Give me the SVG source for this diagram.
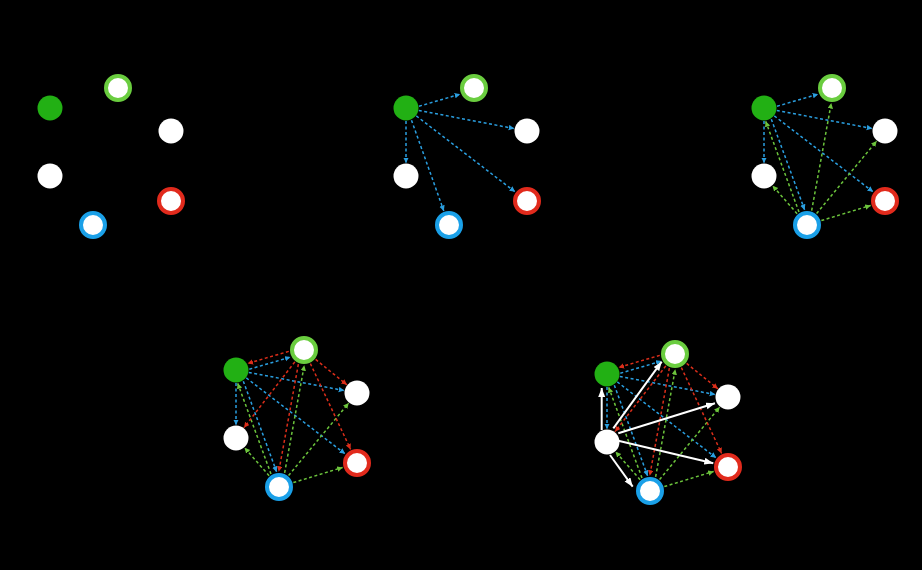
<svg xmlns="http://www.w3.org/2000/svg" width="922" height="570" viewBox="0 0 922 570">
<style>
.fill{fill:#22b014}
.white{fill:#ffffff}
.ringG{fill:#ffffff;stroke:#6acd3f;stroke-width:4}
.ringR{fill:#ffffff;stroke:#e12a1c;stroke-width:4}
.ringB{fill:#ffffff;stroke:#1aa0e8;stroke-width:4}
.eb{stroke:#2a9fe0;stroke-width:1.5;stroke-dasharray:3 2.5;fill:none;marker-end:url(#ab)}
.eg{stroke:#6cc43c;stroke-width:1.5;stroke-dasharray:3 2.5;fill:none;marker-end:url(#ag)}
.er{stroke:#dc2e1a;stroke-width:1.5;stroke-dasharray:3 2.5;fill:none;marker-end:url(#ar)}
.ew{stroke:#ffffff;stroke-width:2;fill:none;marker-end:url(#aw)}
</style>
<defs>
<marker id="ab" markerUnits="userSpaceOnUse" markerWidth="7" markerHeight="7" refX="5.5" refY="2.75" orient="auto"><path d="M0,0 L5.5,2.75 L0,5.5 z" fill="#2a9fe0"/></marker>
<marker id="ag" markerUnits="userSpaceOnUse" markerWidth="7" markerHeight="7" refX="5.5" refY="2.75" orient="auto"><path d="M0,0 L5.5,2.75 L0,5.5 z" fill="#6cc43c"/></marker>
<marker id="ar" markerUnits="userSpaceOnUse" markerWidth="7" markerHeight="7" refX="5.5" refY="2.75" orient="auto"><path d="M0,0 L5.5,2.75 L0,5.5 z" fill="#dc2e1a"/></marker>
<marker id="aw" markerUnits="userSpaceOnUse" markerWidth="10" markerHeight="8" refX="9" refY="3.5" orient="auto"><path d="M0,0 L9,3.5 L0,7 z" fill="#ffffff"/></marker>
</defs>
<rect x="0" y="0" width="922" height="570" fill="#000000"/>

<!-- Panel 1 -->
<g id="panel1">
<g id="p1-g"><circle class="fill" cx="50" cy="108" r="12.5"/></g>
<g id="p1-r1"><circle class="ringG" cx="118" cy="88" r="12"/></g>
<g id="p1-w1"><circle class="white" cx="171" cy="131" r="12.5"/></g>
<g id="p1-w2"><circle class="white" cx="50" cy="176" r="12.5"/></g>
<g id="p1-rd"><circle class="ringR" cx="171" cy="201" r="12"/></g>
<g id="p1-b"><circle class="ringB" cx="93" cy="225" r="12"/></g>
</g>

<!-- Panel 2 -->
<g id="panel2" transform="translate(356,0)">
<g id="p2-connectors">
<line class="eb" x1="63.03" y1="106.25" x2="104.17" y2="94.15"/>
<line class="eb" x1="62.77" y1="110.43" x2="158.23" y2="128.57"/>
<line class="eb" x1="50" y1="121" x2="50" y2="163"/>
<line class="eb" x1="60.31" y1="115.92" x2="159.11" y2="191.86"/>
<line class="eb" x1="55.49" y1="120.2" x2="87.82" y2="210.92"/>
</g>
<g id="p2-g"><circle class="fill" cx="50" cy="108" r="12.5"/></g>
<g id="p2-r1"><circle class="ringG" cx="118" cy="88" r="12"/></g>
<g id="p2-w1"><circle class="white" cx="171" cy="131" r="12.5"/></g>
<g id="p2-w2"><circle class="white" cx="50" cy="176" r="12.5"/></g>
<g id="p2-rd"><circle class="ringR" cx="171" cy="201" r="12"/></g>
<g id="p2-b"><circle class="ringB" cx="93" cy="225" r="12"/></g>
</g>

<!-- Panel 3 -->
<g id="panel3" transform="translate(714,0)">
<g id="p3-connectors">
<line class="eb" x1="63.03" y1="106.25" x2="104.17" y2="94.15"/>
<line class="eb" x1="62.77" y1="110.43" x2="158.23" y2="128.57"/>
<line class="eb" x1="50" y1="121" x2="50" y2="163"/>
<line class="eb" x1="60.31" y1="115.92" x2="159.11" y2="191.86"/>
<line class="eb" x1="57.31" y1="119.16" x2="90.64" y2="209.88"/>
<line class="eg" x1="85.0" y1="211.96" x2="51.67" y2="121.24"/>
<line class="eg" x1="97.66" y1="210.60" x2="117.28" y2="103.12"/>
<line class="eg" x1="102.58" y1="213.46" x2="162.70" y2="141.00"/>
<line class="eg" x1="83.11" y1="213.73" x2="58.57" y2="185.77"/>
<line class="eg" x1="107.34" y1="220.59" x2="156.66" y2="205.41"/>
</g>
<g id="p3-g"><circle class="fill" cx="50" cy="108" r="12.5"/></g>
<g id="p3-r1"><circle class="ringG" cx="118" cy="88" r="12"/></g>
<g id="p3-w1"><circle class="white" cx="171" cy="131" r="12.5"/></g>
<g id="p3-w2"><circle class="white" cx="50" cy="176" r="12.5"/></g>
<g id="p3-rd"><circle class="ringR" cx="171" cy="201" r="12"/></g>
<g id="p3-b"><circle class="ringB" cx="93" cy="225" r="12"/></g>
</g>

<!-- Panel 4 -->
<g id="panel4" transform="translate(186,262)">
<g id="p4-connectors">
<line class="eb" x1="63.32" y1="107.21" x2="104.46" y2="95.11"/>
<line class="eb" x1="62.77" y1="110.43" x2="158.23" y2="128.57"/>
<line class="eb" x1="50" y1="121" x2="50" y2="163"/>
<line class="eb" x1="60.31" y1="115.92" x2="159.11" y2="191.86"/>
<line class="eb" x1="57.31" y1="119.16" x2="90.64" y2="209.88"/>
<line class="eg" x1="85.0" y1="211.96" x2="51.67" y2="121.24"/>
<line class="eg" x1="98.64" y1="210.78" x2="118.26" y2="103.30"/>
<line class="eg" x1="102.58" y1="213.46" x2="162.70" y2="141.00"/>
<line class="eg" x1="83.11" y1="213.73" x2="58.57" y2="185.77"/>
<line class="eg" x1="107.34" y1="220.59" x2="156.66" y2="205.41"/>
<line class="er" x1="102.76" y1="89.35" x2="61.62" y2="101.45"/>
<line class="er" x1="129.65" y1="97.45" x2="160.90" y2="122.81"/>
<line class="er" x1="108.83" y1="99.87" x2="57.95" y2="165.71"/>
<line class="er" x1="124.37" y1="101.58" x2="164.63" y2="187.42"/>
<line class="er" x1="112.36" y1="102.22" x2="92.74" y2="209.70"/>
</g>
<g id="p4-g"><circle class="fill" cx="50" cy="108" r="12.5"/></g>
<g id="p4-r1"><circle class="ringG" cx="118" cy="88" r="12"/></g>
<g id="p4-w1"><circle class="white" cx="171" cy="131" r="12.5"/></g>
<g id="p4-w2"><circle class="white" cx="50" cy="176" r="12.5"/></g>
<g id="p4-rd"><circle class="ringR" cx="171" cy="201" r="12"/></g>
<g id="p4-b"><circle class="ringB" cx="93" cy="225" r="12"/></g>
</g>

<!-- Panel 5 -->
<g id="panel5" transform="translate(557,266)">
<g id="p5-connectors">
<line class="eb" x1="63.32" y1="107.21" x2="104.46" y2="95.11"/>
<line class="eb" x1="62.77" y1="110.43" x2="158.23" y2="128.57"/>
<line class="eb" x1="50" y1="121" x2="50" y2="163"/>
<line class="eb" x1="60.31" y1="115.92" x2="159.11" y2="191.86"/>
<line class="eb" x1="57.31" y1="119.16" x2="90.64" y2="209.88"/>
<line class="eg" x1="85.0" y1="211.96" x2="51.67" y2="121.24"/>
<line class="eg" x1="98.64" y1="210.78" x2="118.26" y2="103.30"/>
<line class="eg" x1="102.58" y1="213.46" x2="162.70" y2="141.00"/>
<line class="eg" x1="83.11" y1="213.73" x2="58.57" y2="185.77"/>
<line class="eg" x1="107.34" y1="220.59" x2="156.66" y2="205.41"/>
<line class="er" x1="102.76" y1="89.35" x2="61.62" y2="101.45"/>
<line class="er" x1="129.65" y1="97.45" x2="160.90" y2="122.81"/>
<line class="er" x1="108.83" y1="99.87" x2="57.95" y2="165.71"/>
<line class="er" x1="124.37" y1="101.58" x2="164.63" y2="187.42"/>
<line class="er" x1="112.36" y1="102.22" x2="92.74" y2="209.70"/>
<line class="ew" x1="44.7" y1="164" x2="44.7" y2="122"/>
<line class="ew" x1="56.3" y1="162.3" x2="104.7" y2="95.7"/>
<line class="ew" x1="61.3" y1="167.3" x2="158" y2="137.3"/>
<line class="ew" x1="61.3" y1="174.7" x2="156.3" y2="197.3"/>
<line class="ew" x1="53" y1="189" x2="75.7" y2="220.7"/>
</g>
<g id="p5-g"><circle class="fill" cx="50" cy="108" r="12.5"/></g>
<g id="p5-r1"><circle class="ringG" cx="118" cy="88" r="12"/></g>
<g id="p5-w1"><circle class="white" cx="171" cy="131" r="12.5"/></g>
<g id="p5-w2"><circle class="white" cx="50" cy="176" r="12.5"/></g>
<g id="p5-rd"><circle class="ringR" cx="171" cy="201" r="12"/></g>
<g id="p5-b"><circle class="ringB" cx="93" cy="225" r="12"/></g>
</g>
</svg>
